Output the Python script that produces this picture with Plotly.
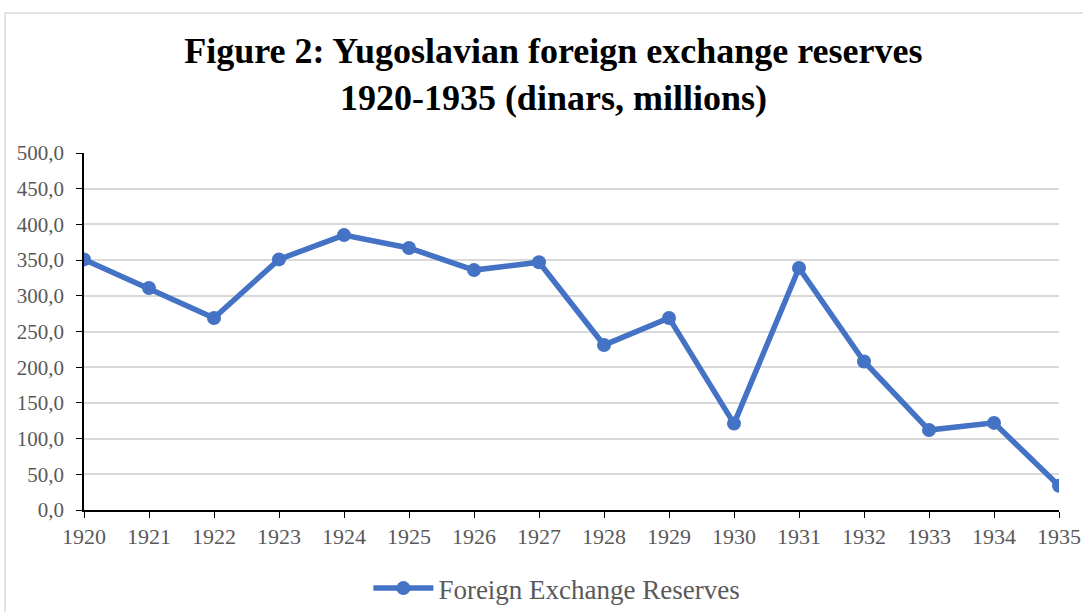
import plotly.graph_objects as go

years = [str(y) for y in range(1920, 1936)]
reserves = [351, 311, 269, 351, 385, 367, 336, 347, 231, 269, 121, 339, 208, 112, 122, 34]
y_ticks = [0, 50, 100, 150, 200, 250, 300, 350, 400, 450, 500]
y_labels = ["%d,0" % v for v in y_ticks]

blue = "#4472C4"
serif = "Liberation Serif, Times New Roman, serif"

fig = go.Figure()
fig.add_trace(go.Scatter(
    x=years, y=reserves, mode="lines+markers",
    name="Foreign Exchange Reserves",
    line=dict(color=blue, width=5.5),
    marker=dict(color=blue, size=14),
))

fig.update_layout(
    width=1083, height=612,
    margin=dict(l=84, r=24, t=153, b=102, autoexpand=False),
    paper_bgcolor="white", plot_bgcolor="white",
    title=dict(
        text="<b>Figure 2: Yugoslavian foreign exchange reserves<br>1920-1935 (dinars, millions)</b>",
        x=0.511, xanchor="center", y=0.897, yanchor="middle",
        font=dict(family=serif, size=36, color="black"),
    ),
    font=dict(family=serif, size=21, color="#595959"),
    showlegend=True,
    legend=dict(orientation="h", x=0.485, xanchor="center", y=-0.22, yanchor="middle",
                itemwidth=60, font=dict(size=27, color="#595959")),
    xaxis=dict(
        type="category", range=[0, 15], showgrid=False, automargin=False,
        showline=True, linecolor="black", linewidth=1.5,
        ticks="outside", ticklen=6, tickcolor="black",
        tickfont=dict(size=22, color="#595959"),
    ),
    yaxis=dict(
        range=[0, 500], tickvals=y_ticks, ticktext=y_labels, automargin=False,
        showgrid=True, gridcolor="#D9D9D9", gridwidth=1.5,
        showline=True, linecolor="black", linewidth=1.5,
        ticks="outside", ticklen=6, tickcolor="black", ticklabelstandoff=8,
        tickfont=dict(size=21, color="#595959"), zeroline=False,
    ),
)

# light chart-area border, cut by the image edge on the right and bottom
fig.add_shape(type="rect", xref="paper", yref="paper",
              x0=-0.081, x1=1.1, y0=-0.4, y1=1.392,
              line=dict(color="#D9D9D9", width=1.5), layer="below")

fig.write_html("out.html", config={"displayModeBar": False},
               post_script="document.body.style.margin='0';")
